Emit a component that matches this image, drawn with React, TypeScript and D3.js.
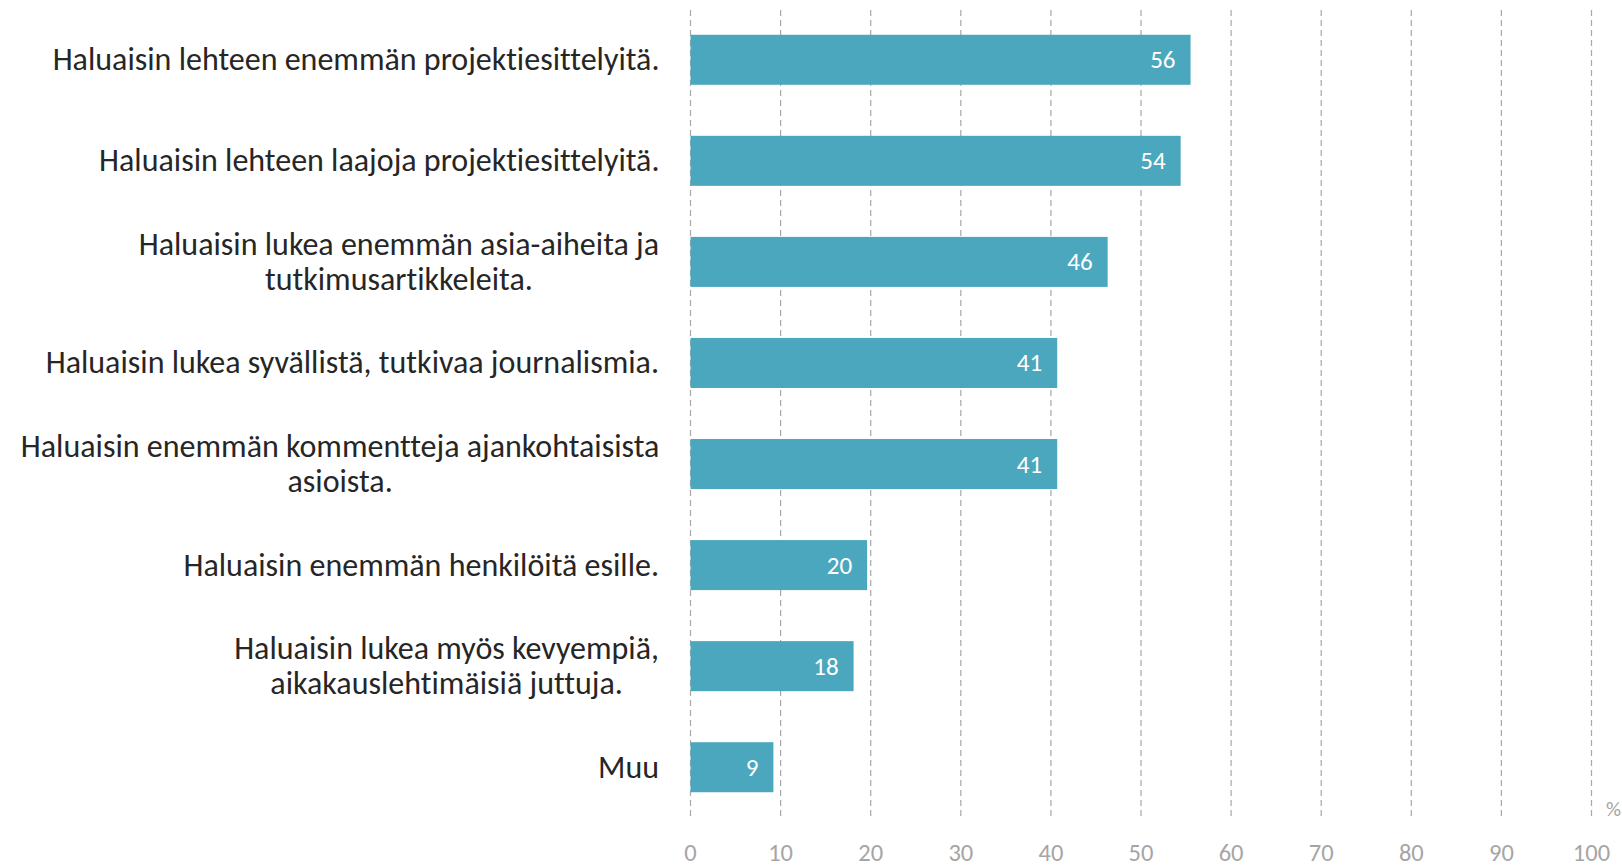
import React, { useMemo } from "react";
import * as d3 from "d3";

const categories: string[] = [
  "Haluaisin lehteen enemmän projektiesittelyitä.",
  "Haluaisin lehteen laajoja projektiesittelyitä.",
  "Haluaisin lukea enemmän asia-aiheita ja\ntutkimusartikkeleita.",
  "Haluaisin lukea syvällistä, tutkivaa journalismia.",
  "Haluaisin enemmän kommentteja ajankohtaisista\nasioista.",
  "Haluaisin enemmän henkilöitä esille.",
  "Haluaisin lukea myös kevyempiä,\naikakauslehtimäisiä juttuja.",
  "Muu",
];
const values: number[] = [55.5, 54.4, 46.3, 40.7, 40.7, 19.6, 18.1, 9.2];
const xTicks: number[] = [0, 10, 20, 30, 40, 50, 60, 70, 80, 90, 100];
const unitLabel = "%";

const W = 1622;
const H = 866;
const FONT = "Carlito, Calibri, Lato, sans-serif";
const LABEL_SIZE = 32;

export default function App() {
  const x = d3.scaleLinear().domain([0, 100]).range([690.5, 1591.5]);
  const y = d3
    .scaleBand<string>()
    .domain(categories)
    .range([10, 817])
    .paddingInner(0.505)
    .paddingOuter(0.245);
  const bw = y.bandwidth();
  const lineH = 35;
  const labelRight = 659;

  const measure = useMemo(() => {
    const cv = document.createElement("canvas");
    const ctx = cv.getContext("2d")!;
    ctx.font = `${LABEL_SIZE}px ${FONT}`;
    return (s: string) => ctx.measureText(s).width;
  }, []);

  return (
    <svg
      width={W}
      height={H}
      style={{
        position: "absolute",
        left: 0,
        top: 0,
        background: "#fff",
        fontVariantLigatures: "none",
      }}
      fontFamily={FONT}
    >
      {xTicks.map((t) => (
        <g key={t}>
          <line
            x1={x(t)}
            x2={x(t)}
            y1={10}
            y2={817}
            stroke="#a8a8a8"
            strokeWidth={1.2}
            strokeDasharray="6,4"
          />
          <text
            x={x(t)}
            y={861}
            textAnchor="middle"
            fontSize={24.5}
            fill="#a5a5a5"
          >
            {t}
          </text>
        </g>
      ))}
      <text x={1606} y={809} dominantBaseline="central" fontSize={21} fill="#a5a5a5">
        {unitLabel}
      </text>
      {categories.map((c, i) => {
        const yc = (y(c) as number) + bw / 2;
        const lines = c.split("\n");
        const blockW = Math.max(...lines.map(measure));
        const cx = labelRight - blockW / 2;
        const v = values[i];
        return (
          <g key={c}>
            <rect
              x={x(0)}
              y={y(c)}
              width={x(v) - x(0)}
              height={bw}
              fill="#4ba7bd"
            />
            <text
              x={x(v) - 15}
              y={yc}
              textAnchor="end"
              dominantBaseline="central"
              fontSize={25}
              fill="#ffffff"
            >
              {Math.round(v)}
            </text>
            <text
              x={cx}
              y={yc - ((lines.length - 1) * lineH) / 2}
              textAnchor="middle"
              fontSize={LABEL_SIZE}
              fill="#262626"
            >
              {lines.map((l, k) => (
                <tspan
                  key={k}
                  x={cx}
                  dy={k === 0 ? 0 : lineH}
                  dominantBaseline="central"
                >
                  {l}
                </tspan>
              ))}
            </text>
          </g>
        );
      })}
    </svg>
  );
}
